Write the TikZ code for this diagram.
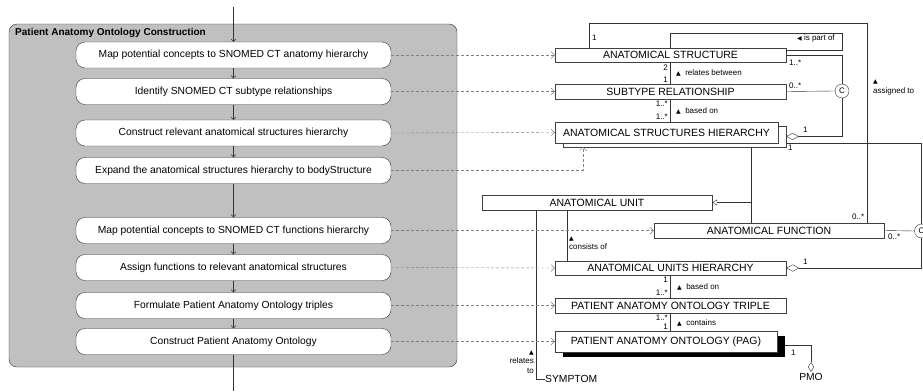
\documentclass[tikz,border=0pt]{standalone}
\usepackage{fontspec}
\setmainfont{Liberation Sans}
\newfontfamily\symf{DejaVu Sans}
\usetikzlibrary{arrows.meta,shadows}
\tikzset{>={Straight Barb[length=3.5pt,width=7pt]}}
\definecolor{panel}{RGB}{192,192,192}
\definecolor{depgray}{RGB}{128,128,128}

\begin{document}
\begin{tikzpicture}[x=1pt,y=-1pt,
  act/.style={draw=black!80,fill=white,rounded corners=9pt,minimum width=315pt,minimum height=26pt,inner sep=0pt,font=\fontsize{10.3}{12}\selectfont},
  cls/.style={draw=black!75,fill=white,minimum width=231pt,minimum height=15pt,inner sep=0pt,font=\fontsize{10.5}{12}\selectfont},
  lab/.style={inner sep=0pt,font=\fontsize{8}{9.5}\selectfont},
  flow/.style={draw=black!80,-{Straight Barb[length=2.5pt,width=5pt]}},
  deparr/.style={depgray,dash pattern=on 3pt off 2pt,->},
  assoc/.style={draw=black!80},
  agg/.style={assoc,{Diamond[open,length=13pt,width=7pt]}-}]
\useasboundingbox (0,0) rectangle (923,391);
% activity panel
\draw[black!80,fill=panel,rounded corners=8pt] (9,24) rectangle (457,367);
\node[anchor=west,inner sep=0pt,font=\fontsize{10}{12}\selectfont\bfseries] (title) at (15,33) {Patient Anatomy Ontology Construction};
\node[act] (a1) at (233.5,55) {Map potential concepts to SNOMED CT anatomy hierarchy};
\node[act] (a2) at (233.5,91.5) {Identify SNOMED CT subtype relationships};
\node[act] (a3) at (233.5,133) {Construct relevant anatomical structures hierarchy};
\node[act] (a4) at (233.5,170.5) {Expand the anatomical structures hierarchy to bodyStructure};
\node[act] (a5) at (233.5,230.5) {Map potential concepts to SNOMED CT functions hierarchy};
\node[act] (a6) at (233.5,267.5) {Assign functions to relevant anatomical structures};
\node[act] (a7) at (233.5,305.5) {Formulate Patient Anatomy Ontology triples};
\node[act] (a8) at (233.5,341.5) {Construct Patient Anatomy Ontology};
\coordinate (start) at (233.5,7);
\coordinate (stop) at (233.5,391);
\draw[flow] (start) -- (a1.north);
\foreach \p/\q in {a1/a2,a2/a3,a3/a4,a4/a5,a5/a6,a6/a7,a7/a8}
  \draw[flow] (\p.south) -- (\q.north);
\draw[draw=black!80] (a8.south) -- (stop);
% classes
\node[cls,minimum height=14pt] (as) at (670.5,55) {ANATOMICAL STRUCTURE};
\node[cls] (sr) at (670.5,91.5) {SUBTYPE RELATIONSHIP};
\node[cls,minimum width=223pt,minimum height=21pt,copy shadow={shadow xshift=8pt,shadow yshift=-4pt}] (ash) at (666.5,132.5) {ANATOMICAL STRUCTURES HIERARCHY};
\node[cls,minimum width=230pt] (au) at (597,202.5) {ANATOMICAL UNIT};
\node[cls,minimum width=230pt] (af) at (769,230.5) {ANATOMICAL FUNCTION};
\node[cls,minimum height=14pt] (auh) at (670.5,268) {ANATOMICAL UNITS HIERARCHY};
\node[cls] (paot) at (670.5,305.5) {PATIENT ANATOMY ONTOLOGY TRIPLE};
\node[cls,minimum width=222pt,minimum height=21pt,drop shadow={shadow xshift=8pt,shadow yshift=-4.5pt,fill=black,opacity=1}] (pag) at (666,341.5) {PATIENT ANATOMY ONTOLOGY (PAG)};
\node[draw=black!80,fill=white,circle,minimum size=14pt,inner sep=0pt,font=\fontsize{8}{9}\selectfont] (c1) at (842,91) {C};
\node[draw=black!80,fill=white,circle,minimum size=14pt,inner sep=0pt,font=\fontsize{8}{9}\selectfont] (c2) at (921.5,231) {C};
\node[anchor=west,inner sep=0pt,font=\fontsize{10.3}{12}\selectfont] (sym) at (545,379) {SYMPTOM};
\node[anchor=north,inner sep=1pt,font=\fontsize{10.3}{12}\selectfont] (pmo) at (811,372) {PMO};
% helper points
\coordinate (asg) at (867,23);
\coordinate (loop) at (842,33);
\coordinate (ashd) at (786,136.5);
\coordinate (ashb) at (786,143);
\coordinate (ashs) at (751,147);
\coordinate (ashu) at (583,147);
\coordinate (cons) at (567,0);
\coordinate (rel) at (536,0);
\coordinate (pagr) at (785,345);
% associations
\draw[assoc] ([xshift=34pt]as.north west) |- (asg) -- (asg |- af.north);
\draw[assoc] (as.north) |- (loop) |- ([yshift=-2pt]as.north east);
\draw[assoc] (as.east) -| (c1.north);
\draw[assoc] (sr.east) -- (c1.west);
\draw[agg] (ashd) -| (c1.south);
\draw[assoc] (ashb) -| (c2.north);
\draw[assoc] (af.east) -- (c2.west);
\draw[agg] (auh.east) -| (c2.south);
\draw[assoc] (as.south) -- (sr.north);
\draw[assoc] (sr.south) -- (sr.south |- ash.north);
\draw[assoc] (ashs) -- (ashs |- af.north);
\draw[assoc,-{Triangle[open,length=5pt,width=6pt]}] (ashs |- au.east) -- (au.east);
\draw[assoc] (au.south -| cons) -- (auh.north -| cons);
\draw[assoc] (au.south -| rel) |- (sym.west);
\draw[assoc] (auh.south) -- (paot.north);
\draw[assoc] (paot.south) -- (paot.south |- pag.north);
\draw[assoc,-{Diamond[open,length=10pt,width=6pt]}] (pagr) -| (pmo.north);
% realisations
\draw[deparr] (a1.east) -- (as.west);
\draw[deparr] (a2.east) -- (sr.west);
\draw[deparr] (a3.east) -- (ash.west);
\draw[deparr] (a4.east) -| (ashu);
\draw[deparr] (a5.east) -- (af.west);
\draw[deparr] (a6.east) -- (auh.west);
\draw[deparr] (a7.east) -- (paot.west);
\draw[deparr] (a8.east) -- (pag.west);
% labels
\node[lab,anchor=west] (m1) at (592,38) {1};
\node[lab,anchor=west] (part) at (797,38) {{\symf\fontsize{6}{7}\selectfont ◀}~is part of};
\node[lab,anchor=west] (m2) at (789,63) {1..*};
\node[lab,anchor=west] (m3) at (789,86) {0..*};
\node[lab,anchor=east] (m4) at (668,68) {2};
\node[lab,anchor=east] (m5) at (668,80) {1};
\node[lab,anchor=west] (relb) at (676,73) {{\symf\fontsize{6}{7}\selectfont ▲}~~relates between};
\node[lab,anchor=east] (m6) at (668,104) {1..*};
\node[lab,anchor=east] (m7) at (668,117) {1..*};
\node[lab,anchor=west] (bas1) at (676,111) {{\symf\fontsize{6}{7}\selectfont ▲}~~based on};
\node[lab,anchor=west] (m8) at (803,130) {1};
\node[lab,anchor=west] (m9) at (788,148) {1};
\node[lab,anchor=north west,align=left] (asgl) at (873,79) {{\symf\fontsize{6}{7}\selectfont ▲}\\[1pt]assigned to};
\node[lab,anchor=west] (m10) at (852,217) {0..*};
\node[lab,anchor=west] (m11) at (888,237) {0..*};
\node[lab,anchor=west] (m12) at (803,262) {1};
\node[lab,anchor=north west,align=left] (consl) at (569,236) {{\symf\fontsize{6}{7}\selectfont ▲}\\consists of};
\node[lab,anchor=north east,align=right] (rell) at (534,350) {{\symf\fontsize{6}{7}\selectfont ▲}\\relates\\to};
\node[lab,anchor=east] (m13) at (668,280) {1};
\node[lab,anchor=east] (m14) at (668,293) {1..*};
\node[lab,anchor=west] (bas2) at (677,287) {{\symf\fontsize{6}{7}\selectfont ▲}~~based on};
\node[lab,anchor=east] (m15) at (668,318) {1..*};
\node[lab,anchor=east] (m16) at (668,327) {1};
\node[lab,anchor=west] (cont) at (677,323) {{\symf\fontsize{6}{7}\selectfont ▲}~~contains};
\node[lab,anchor=west] (m17) at (791,353) {1};
\end{tikzpicture}
\end{document}
